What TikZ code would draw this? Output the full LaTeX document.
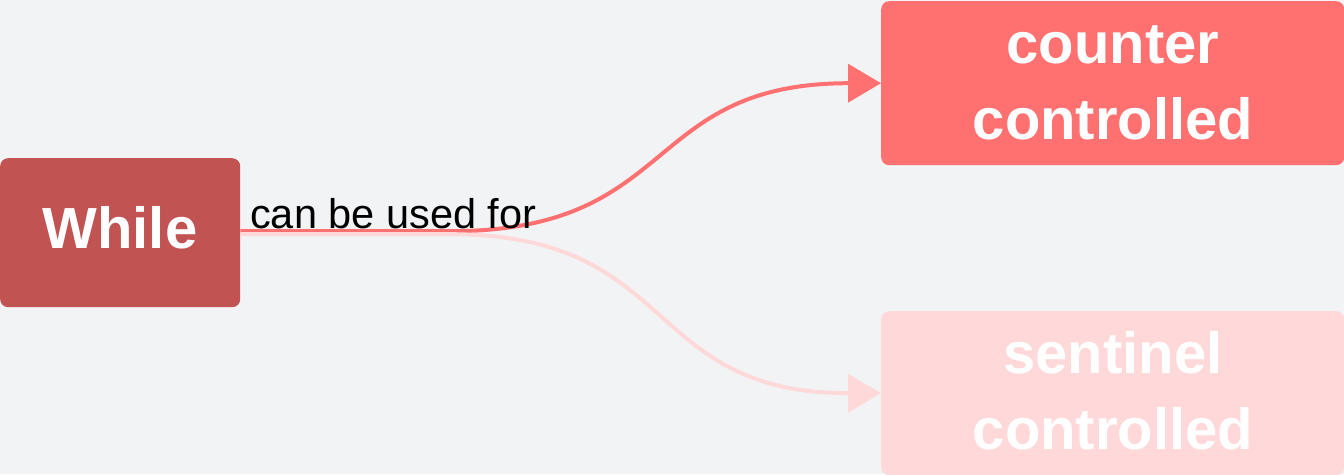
\documentclass[tikz,border=0pt]{standalone}
\usepackage{fontspec}
\setmainfont{Liberation Sans}
\usetikzlibrary{arrows.meta}
\definecolor{bg}{HTML}{F2F3F5}
\definecolor{whilec}{HTML}{C25353}
\definecolor{counterc}{HTML}{FF7070}
\definecolor{sentc}{HTML}{FFD9D9}
\tikzset{
  box/.style={rectangle, rounded corners=8pt, inner sep=0pt, draw=none},
  boxtext/.style={text=white, font=\fontsize{58}{76}\selectfont\bfseries, inner sep=0pt, anchor=base},
  edge/.style={line width=4pt, -{Triangle[length=33pt,width=38pt]}},
}
\begin{document}
\begin{tikzpicture}[x=1pt,y=-1pt]
\useasboundingbox (0,0) rectangle (1344,474);
\fill[bg] (0,0) rectangle (1344,474);
\clip (0,0) rectangle (1344,474);
\node[box, fill=whilec, minimum width=240pt, minimum height=149pt, anchor=north west] (while) at (0,158) {};
\node[box, fill=counterc, minimum width=463pt, minimum height=164pt, anchor=north west] (cc) at (881,1) {};
\node[box, fill=sentc, minimum width=463pt, minimum height=164pt, anchor=north west] (sc) at (881,311) {};
\node[boxtext] (whilet) at (120,248) {While};
\node[boxtext] (cct1) at (1113,63) {counter};
\node[boxtext] (cct2) at (1113,139) {controlled};
\node[boxtext] (sct1) at (1113,373) {sentinel};
\node[boxtext] (sct2) at (1113,449) {controlled};
\draw[edge, counterc] (while.east) ++(0,-1.5) -- ++(210,0) .. controls +(230,0) and +(-240,0) .. (cc.west);
\draw[edge, sentc] (while.east) ++(0,1.5) -- ++(210,0) .. controls +(230,0) and +(-240,0) .. (sc.west);
\node[anchor=base west, inner sep=0pt, font=\fontsize{41.5}{50}\selectfont] (lbl) at (250,228) {can be used for};
\end{tikzpicture}
\end{document}
